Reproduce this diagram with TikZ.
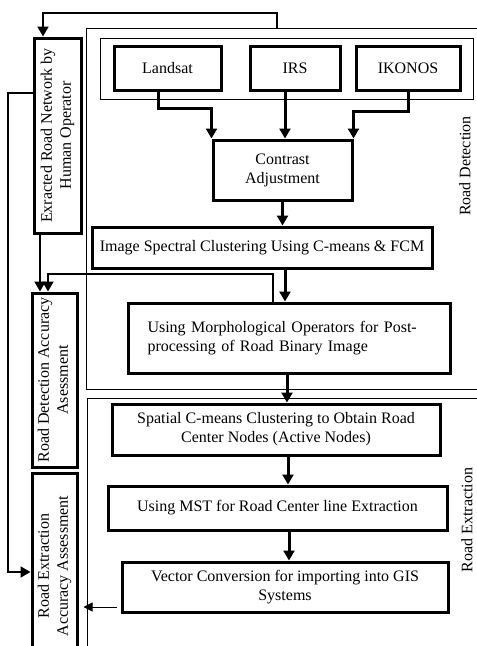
\documentclass[tikz,border=0pt]{standalone}
\usepackage{fontspec}
\setmainfont{Liberation Serif}
\usepackage{graphicx}
\usetikzlibrary{arrows.meta}

\tikzset{
    txt/.style={font=\fontsize{16}{19}\selectfont},
    box/.style={txt, draw, line width=3pt, align=center, inner sep=2pt},
    frame/.style={draw, line width=1pt},
    flow/.style={line width=3pt, -{Triangle[length=10pt,width=11pt]}},
    feedback/.style={line width=2pt, -{Triangle[length=10pt,width=11pt]}},
    back/.style={line width=1pt, -{Triangle[length=9pt,width=9pt]}}
}

\begin{document}
\begin{tikzpicture}[x=1pt,y=-1pt]
        \useasboundingbox (0,0) rectangle (477,646);
        \clip (0,0) rectangle (477,646);

        % the frames of the two stages
        \draw[frame] (86,28) rectangle (495,389);
        \draw[frame] (87,398) rectangle (495,670);
        \draw[frame] (100,38) rectangle (473,99);
        \node[txt, rotate=90] (detlabel) at (465,166) {Road Detection};
        \node[txt, rotate=90] (extlabel) at (467,520) {Road Extraction};

        % the input images
        \node[box, minimum width=107pt, minimum height=44pt] (landsat) at (167.5,68) {Landsat};
        \node[box, minimum width=90pt, minimum height=44pt] (irs) at (295,68) {IRS};
        \node[box, minimum width=104pt, minimum height=44pt] (ikonos) at (408,68) {IKONOS};

        % the processing steps
        \node[box, minimum width=139pt, minimum height=60pt] (contrast) at (282.5,170) {Contrast\\Adjustment};
        \node[box, minimum width=340pt, minimum height=41pt] (spectral) at (262,247.5) {Image Spectral Clustering Using C-means \& FCM};
        \node[box, minimum width=322pt, minimum height=70pt, text width=283pt, align=left] (morph) at (289,338)
            {\makebox[283pt][s]{Using Morphological Operators for Post-}\\processing of Road Binary Image};
        \node[box, minimum width=328pt, minimum height=51pt] (spatial) at (276,429.5) {Spatial C-means Clustering to Obtain Road\\Center Nodes (Active Nodes)};
        \node[box, minimum width=339pt, minimum height=44pt] (mst) at (277.5,508) {Using MST for Road Center line Extraction};
        \node[box, minimum width=326pt, minimum height=50pt] (vector) at (285,587) {Vector Conversion for importing into GIS\\Systems};

        % the boxes on the left side (text turned upwards)
        \node[box, minimum width=47pt, minimum height=195pt] (extr) at (57.5,135.5)
            {\rotatebox{90}{\begin{tabular}{@{}c@{}}Exracted Road Network by\\Human Operator\end{tabular}}};
        \node[box, minimum width=45pt, minimum height=174pt] (rdacc) at (54.5,380)
            {\rotatebox{90}{\begin{tabular}{@{}c@{}}Road Detection Accuracy\\Asessment\end{tabular}}};
        \node[box, minimum width=45pt, minimum height=186pt] (reacc) at (54.5,566)
            {\rotatebox{90}{\begin{tabular}{@{}c@{}}Road Extraction\\Accuracy Assessment\end{tabular}}};

        \coordinate (fbtop) at (277,28);

        % draw the arrows
        \draw[flow] ([xshift=-9.5pt]landsat.south) -- ++(0,17) -| (contrast.north west);
        \draw[flow] ([xshift=-10pt]irs.south) -- ([xshift=-10pt]irs.south |- contrast.north);
        \draw[flow] (ikonos.south) -- ++(0,20) -| (contrast.north east);
        \draw[flow] (contrast.south) -- (contrast.south |- spectral.north);
        \draw[flow] ([xshift=-4pt]morph.north |- spectral.south) -- ([xshift=-4pt]morph.north);
        \draw[flow] ([xshift=-2pt]morph.south) -- ([xshift=-2pt]morph.south |- spatial.north);
        \draw[flow] ([xshift=12pt]spatial.south) -- ([xshift=12pt]spatial.south |- mst.north);
        \draw[flow] ([xshift=11.5pt]mst.south) -- ([xshift=11.5pt]mst.south |- vector.north);
        \draw[back, shorten <=4pt, shorten >=5pt] ([yshift=-20pt]vector.west) -- ([yshift=-20pt]vector.west -| reacc.east);

        % the feedback lines
        \draw[feedback] (fbtop) -- ++(0,-15) -| ([xshift=-14.5pt]extr.north);
        \draw[feedback] ([xshift=-17.5pt]extr.south) -- ([xshift=-17.5pt]extr.south |- rdacc.north);
        \draw[feedback] ([xshift=-16pt]morph.north) -- ++(0,-28) -| ([xshift=-6.5pt]rdacc.north);
        \draw[feedback] ([yshift=42.5pt]extr.west) -- ++(-25,0) |- ([yshift=-6pt]reacc.west);

    \end{tikzpicture}
\end{document}
